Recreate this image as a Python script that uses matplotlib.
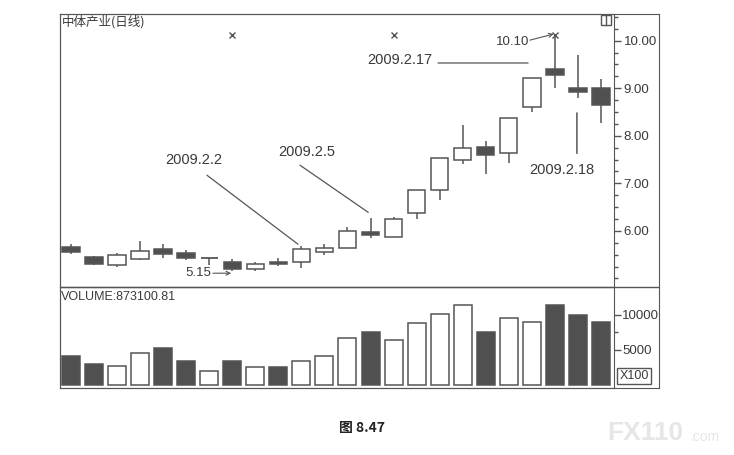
import matplotlib
matplotlib.use('Agg')
import matplotlib.pyplot as plt
from matplotlib.patches import Rectangle
from matplotlib.ticker import MultipleLocator, FixedLocator

plt.rcParams['font.family'] = ['Liberation Sans', 'Noto Sans CJK SC', 'DejaVu Sans']

# 日线数据
opens = [5.67, 5.45, 5.28, 5.40, 5.61, 5.54, 5.43, 5.34, 5.19, 5.35, 5.35, 5.55,
         5.63, 5.97, 5.87, 6.38, 6.86, 7.50, 7.77, 7.63, 8.60, 9.40, 9.01, 9.01]
closes = [5.56, 5.30, 5.49, 5.57, 5.51, 5.43, 5.43, 5.19, 5.31, 5.30, 5.61, 5.64,
          5.99, 5.91, 6.24, 6.87, 7.54, 7.75, 7.59, 8.37, 9.21, 9.28, 8.91, 8.65]
highs = [5.73, 5.48, 5.54, 5.79, 5.73, 5.60, 5.43, 5.40, 5.34, 5.43, 5.68, 5.73,
         6.08, 6.28, 6.29, 6.87, 7.54, 8.23, 7.88, 8.37, 9.21, 10.10, 9.70, 9.19]
lows = [5.52, 5.28, 5.24, 5.39, 5.43, 5.38, 5.28, 5.15, 5.16, 5.27, 5.21, 5.50,
        5.63, 5.85, 5.87, 6.26, 6.65, 7.40, 7.19, 7.42, 8.51, 9.01, 8.80, 8.26]
volumes = [4140, 2980, 2780, 4550, 5300, 3380, 2020, 3380, 2530, 2530, 3380, 4140,
           6720, 7530, 6410, 8840, 10050, 11310, 7530, 9550, 8990, 11310, 9950, 8890]
marks_x = [7, 14, 21]          # 顶部 x 标记
price_ticks = [6, 7, 8, 9, 10]
vol_ticks = [5000, 10000]

dark = '#505050'
line = '#555555'
txt = '#3a3a3a'

W, H = 734, 455
def fx(p): return p / W
def fy(p): return 1 - p / H

fig = plt.figure(figsize=(W / 100, H / 100), dpi=100)

# 外框
bg = fig.add_axes([fx(60), fy(388), (659 - 60) / W, (388 - 14) / H])
bg.set_xticks([]), bg.set_yticks([])
bg.set_xlim(0, 1), bg.set_ylim(0, 1)
bg.axhline((388 - 287) / (388 - 14), color=line, lw=1)
for s in bg.spines.values():
    s.set_color(line)

ax = fig.add_axes([fx(60), fy(287), (614 - 60) / W, (287 - 14) / H])
axv = fig.add_axes([fx(60), fy(388), (614 - 60) / W, (388 - 287) / H], sharex=ax)
for a in (ax, axv):
    a.patch.set_alpha(0)
    for s in a.spines.values():
        s.set_color(line)
    a.yaxis.tick_right()
    a.tick_params(axis='x', bottom=False, labelbottom=False)
    a.tick_params(axis='y', colors=line, labelcolor=txt, labelsize=9.5, length=5, width=1, pad=2)
    a.tick_params(axis='y', which='minor', colors=line, length=3, width=1)

w = 0.76
for i in range(len(opens)):
    o, c, h, l = opens[i], closes[i], highs[i], lows[i]
    ax.vlines(i, l, h, color=line, lw=1.1, zorder=1)
    if o == c:
        ax.hlines(o, i - w / 2, i + w / 2, color=line, lw=1.3, zorder=2)
    else:
        fc = 'white' if c > o else dark
        ax.add_patch(Rectangle((i - w / 2, min(o, c)), w, abs(c - o), facecolor=fc,
                               edgecolor=line, lw=1.1, zorder=2))
    vfc = 'white' if c >= o else dark
    axv.bar(i, volumes[i], width=0.78, facecolor=vfc, edgecolor=line, lw=1.1)

ax.plot(marks_x, [10.12] * len(marks_x), 'x', color='#555', ms=4, mew=1)

ax.set_xlim(-0.48, 23.57)
ax.set_ylim(4.82, 10.56)
ax.yaxis.set_major_locator(FixedLocator(price_ticks))
ax.yaxis.set_major_formatter(matplotlib.ticker.FormatStrFormatter('%.2f'))
ax.yaxis.set_minor_locator(MultipleLocator(0.25))

axv.set_ylim(-380, 13900)
axv.yaxis.set_major_locator(FixedLocator(vol_ticks))
axv.yaxis.set_minor_locator(FixedLocator([7500]))
axv.tick_params(axis='y', pad=1)

# 标注
fs = 10.5
ax.text(5.32, 7.49, '2009.2.2', ha='center', va='center', fontsize=fs, color=txt)
ax.annotate('', xy=(10 - 0.15, highs[10] + 0.04), xytext=(5.90, 7.17),
            arrowprops=dict(arrowstyle='-', color=line, lw=0.9, shrinkA=0, shrinkB=0))
ax.text(10.22, 7.66, '2009.2.5', ha='center', va='center', fontsize=fs, color=txt)
ax.annotate('', xy=(13 - 0.1, highs[13] + 0.11), xytext=(9.94, 7.38),
            arrowprops=dict(arrowstyle='-', color=line, lw=0.9, shrinkA=0, shrinkB=0))
ax.text(15.7, 9.59, '2009.2.17', ha='right', va='center', fontsize=fs, color=txt)
ax.annotate('', xy=(19.84, 9.53), xytext=(15.93, 9.53),
            arrowprops=dict(arrowstyle='-', color=line, lw=0.9, shrinkA=0, shrinkB=0))
ax.text(21.29, 7.28, '2009.2.18', ha='center', va='center', fontsize=fs, color=txt)
ax.annotate('', xy=(22 - 0.04, 7.63), xytext=(22 - 0.04, 8.48),
            arrowprops=dict(arrowstyle='-', color=line, lw=1.1, shrinkA=0, shrinkB=0))
ax.text(19.16, 9.97, '10.10', ha='center', va='center', fontsize=9.5, color=txt)
ax.annotate('', xy=(21 - 0.05, highs[21] + 0.04), xytext=(19.92, 10.01),
            arrowprops=dict(arrowstyle='->', color=line, lw=0.8, shrinkA=0, shrinkB=0,
                            mutation_scale=7))
ax.text(5.53, 5.11, '5.15', ha='center', va='center', fontsize=9.5, color=txt)
ax.annotate('', xy=(7 - 0.05, 5.11), xytext=(6.16, 5.11),
            arrowprops=dict(arrowstyle='->', color=line, lw=0.8, shrinkA=0, shrinkB=0,
                            mutation_scale=7))

fig.text(fx(62), fy(22), '中体产业(日线)', fontsize=9, color=txt, va='center',
         family=['Noto Sans CJK SC', 'DejaVu Sans'])
fig.text(fx(61), fy(297), 'VOLUME:873100.81', fontsize=9, color=txt, va='center')
fig.text(fx(634), fy(376), 'X100', fontsize=9, color=txt, ha='center', va='center',
         bbox=dict(boxstyle='square,pad=0.15', facecolor='white', edgecolor=line, lw=1))

# 右上角小图标
fig.add_artist(Rectangle((fx(601), fy(25)), 10 / W, 10 / H, transform=fig.transFigure,
                         facecolor='white', edgecolor=line, lw=1))
fig.add_artist(matplotlib.lines.Line2D([fx(606), fx(606)], [fy(25), fy(15)],
                                       transform=fig.transFigure, color=line, lw=1))

fig.text(fx(362), fy(428), '图 8.47', fontsize=10, fontweight='bold', ha='center', va='center',
         color='#222', family=['Noto Sans CJK SC', 'DejaVu Sans'])
fig.text(fx(607), fy(433), 'FX110', fontsize=19, fontweight='bold', color='#e6e6e6', va='center')
fig.text(fx(690), fy(437), '.com', fontsize=10, color='#e6e6e6', va='center')

fig.savefig('out.png', dpi=100, facecolor='white')
